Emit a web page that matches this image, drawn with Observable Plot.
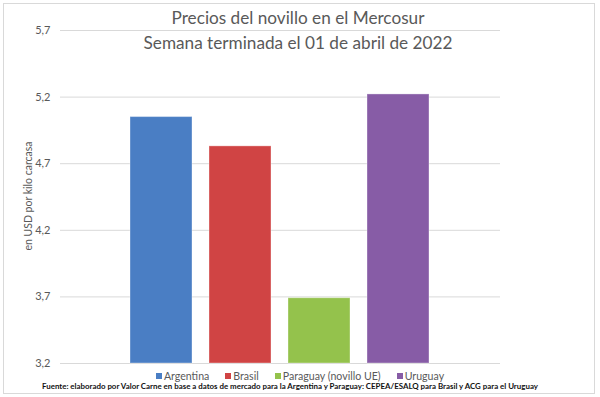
<!DOCTYPE html>
<html>
<head>
<meta charset="utf-8">
<script src="https://cdn.jsdelivr.net/npm/d3@7"></script>
<script src="https://cdn.jsdelivr.net/npm/@observablehq/plot@0.6"></script>
<style>
  html, body { margin: 0; padding: 0; background: #fff; }
  #wrap { position: relative; width: 600px; height: 397px; font-family: Lato, "Open Sans", sans-serif; overflow: hidden; }
  #frame { position: absolute; left: 3px; top: 3px; width: 592px; height: 391px; border: 1px solid #d9d9d9; box-sizing: border-box; }
  #chart { position: absolute; left: 0; top: 0; }
  .title { position: absolute; left: 0; width: 596px; text-align: center; color: #595959; font-size: 17.2px; line-height: 18px; }
  #legend { position: absolute; left: 0; width: 600px; top: 370px; height: 12px; line-height: 12px; display: flex; justify-content: center; gap: 16px; font-size: 10.6px; color: #595959; }
  #legend > div { display: flex; align-items: center; }
  #legend span.sw { display: inline-block; width: 6px; height: 6px; margin-right: 2px; }
  #caption { position: absolute; left: 0; width: 580px; top: 382px; line-height: 9px; text-align: center; font-size: 7.9px; font-weight: bold; color: #111; }
</style>
</head>
<body>
<div id="wrap">
  <div id="frame"></div>
  <div id="chart"></div>
  <div class="title" id="t1" style="top:9px"></div>
  <div class="title" id="t2" style="top:34px"></div>
  <div id="legend"></div>
  <div id="caption"></div>
</div>
<script>
const titleLines = ["Precios del novillo en el Mercosur", "Semana terminada el 01 de abril de 2022"];
const yLabel = "en USD por kilo carcasa";
const caption = "Fuente: elaborado por Valor Carne en base a datos de mercado para la Argentina y Paraguay: CEPEA/ESALQ para Brasil y ACG para el Uruguay";
const paises = ["Argentina", "Brasil", "Paraguay (novillo UE)", "Uruguay"];
const valores = [5.05, 4.83, 3.69, 5.22];
const colores = ["#4a7ec4", "#d04444", "#94c24c", "#875ca6"];
const yTicks = [3.2, 3.7, 4.2, 4.7, 5.2, 5.7];
const yDomain = [3.2, 5.7];

const data = paises.map((p, i) => ({pais: p, valor: valores[i]}));
const fmt = d => d3.format(".1f")(d).replace(".", ",");

const chart = Plot.plot({
  width: 600,
  height: 397,
  marginTop: 30,
  marginBottom: 34,
  marginLeft: 60,
  marginRight: 100,
  style: {fontFamily: "Lato, sans-serif", fontSize: "11px", color: "#595959", background: "transparent"},
  x: {domain: paises, paddingInner: 0.214, paddingOuter: 0.875, axis: null},
  y: {domain: yDomain, ticks: yTicks, tickFormat: fmt, label: null},
  color: {domain: paises, range: colores},
  marks: [
    Plot.gridY(yTicks, {stroke: "#d9d9d9", strokeOpacity: 1}),
    Plot.axisY(yTicks, {tickSize: 0, tickPadding: 10, fill: "#595959", fontSize: 11, label: null, tickFormat: fmt}),
    Plot.barY(data, {x: "pais", y1: yDomain[0], y2: "valor", fill: "pais", stroke: "#ffffff", strokeOpacity: 0.35, strokeWidth: 1})
  ]
});
document.getElementById("chart").appendChild(chart);

d3.select(chart).append("text")
  .attr("transform", `translate(32, 196) rotate(-90)`)
  .attr("text-anchor", "middle")
  .attr("fill", "#595959")
  .attr("font-size", 10.5)
  .text(yLabel);

document.getElementById("t1").textContent = titleLines[0];
document.getElementById("t2").textContent = titleLines[1];
document.getElementById("caption").textContent = caption;
const leg = document.getElementById("legend");
paises.forEach((p, i) => {
  const item = document.createElement("div");
  item.innerHTML = `<span class="sw" style="background:${colores[i]}"></span>${p}`;
  leg.appendChild(item);
});
</script>
</body>
</html>
